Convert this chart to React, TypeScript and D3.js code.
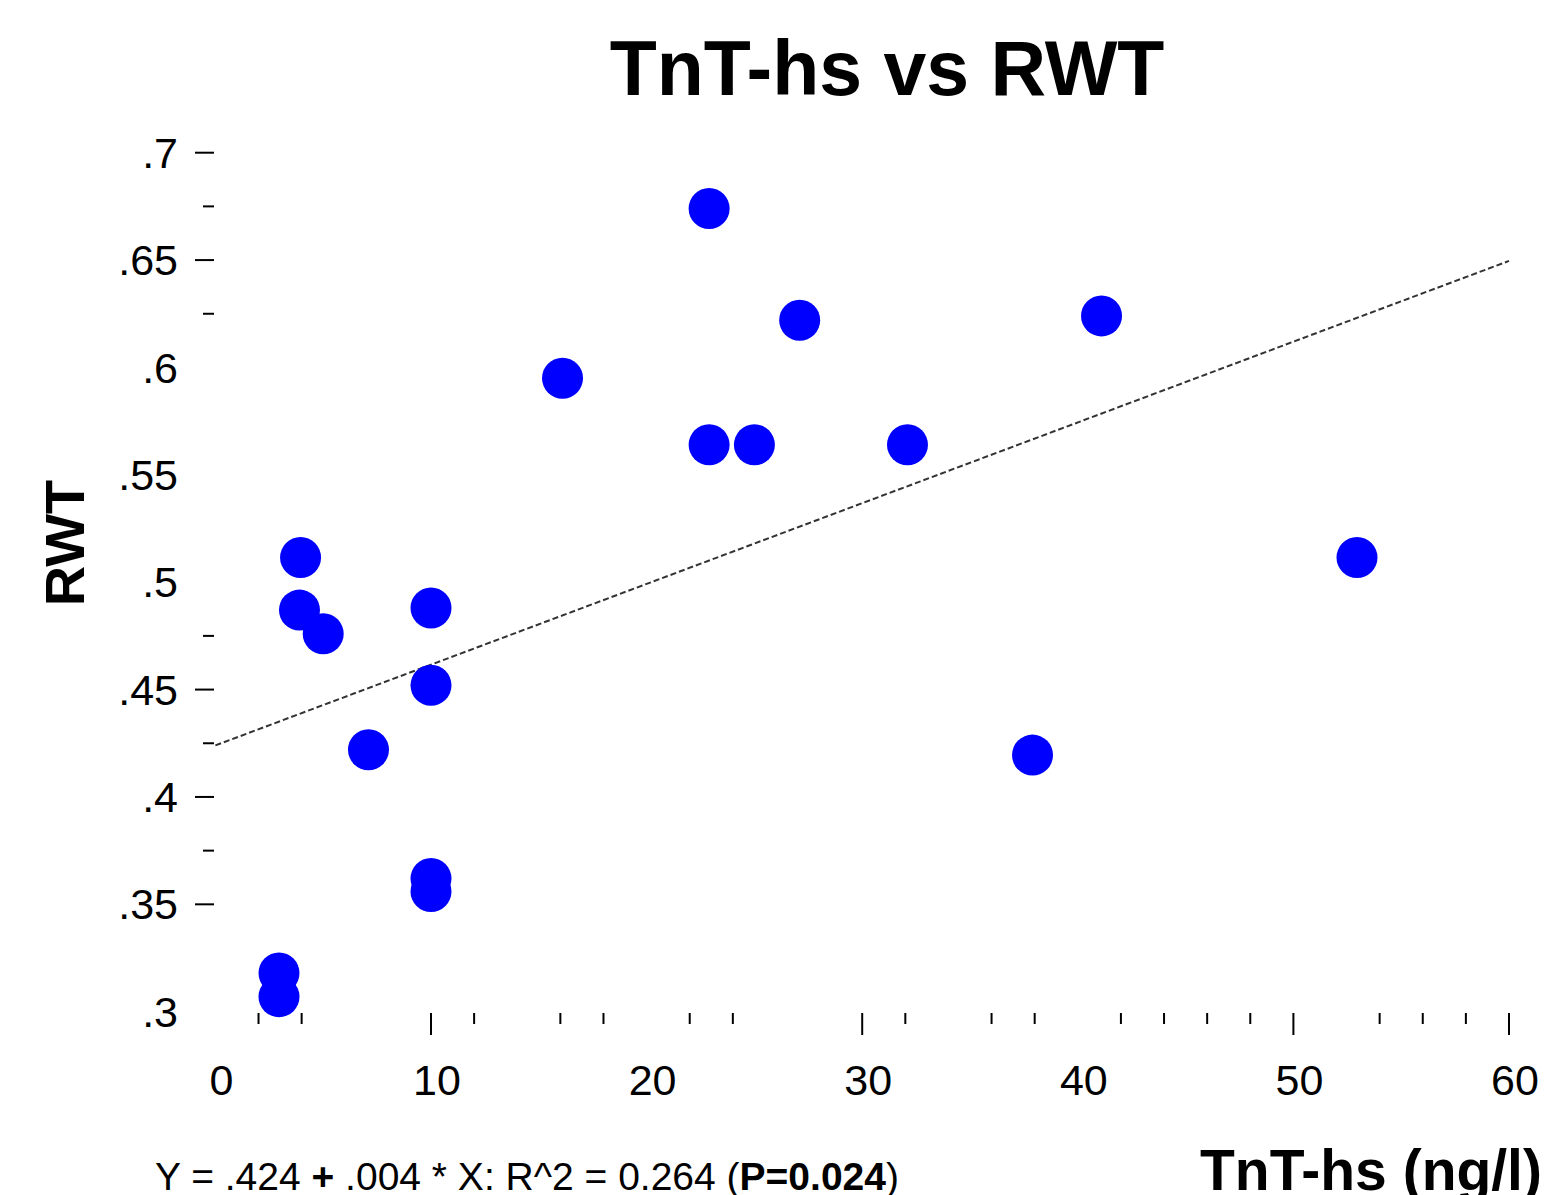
import React, { useRef, useEffect } from 'react';
import * as d3 from 'd3';

// TnT-hs (ng/l) vs RWT
const tnt = [22.9, 27.1, 41.1, 16.1, 22.9, 25.0, 32.1, 3.95, 52.95, 3.9, 5.0, 10.0, 10.0, 7.1, 37.9, 10.0, 10.0, 2.95, 2.95];
const rwt = [0.674, 0.622, 0.624, 0.595, 0.564, 0.564, 0.564, 0.5115, 0.5115, 0.487, 0.476, 0.488, 0.452, 0.422, 0.4195, 0.362, 0.356, 0.318, 0.307];

const xLabels = [0, 10, 20, 30, 40, 50, 60];
const xMajorTicks = [10, 30, 50, 60];
const xMinorTicks = [2, 4, 12, 16, 18, 22, 24, 32, 36, 38, 42, 44, 46, 48, 54, 56, 58];
const yLabels = [0.3, 0.35, 0.4, 0.45, 0.5, 0.55, 0.6, 0.65, 0.7];
const yMajorTicks = [0.35, 0.4, 0.45, 0.65, 0.7];
const yMinorTicks = [0.375, 0.425, 0.475, 0.625, 0.675];

// regression: Y = .424 + .00376 * X
const fitIntercept = 0.424;
const fitSlope = 0.00376;

const FONT = '"Liberation Sans", Arial, sans-serif';

const App = () => {
  const svgRef = useRef(null);

  useEffect(() => {
    document.body.style.margin = '0';
    const svg = d3.select(svgRef.current);
    svg.selectAll('*').remove();

    const x = d3.scaleLinear().domain([0, 60]).range([215.4, 1509]);
    const y = d3.scaleLinear().domain([0.3, 0.7]).range([1011.7, 152.7]);
    const fmt = (v) => d3.format('.2~f')(v).replace(/^0/, '');

    svg.append('text')
      .attr('x', 887).attr('y', 95)
      .attr('text-anchor', 'middle')
      .attr('font-family', FONT).attr('font-weight', 'bold')
      .attr('font-size', 77)
      .text('TnT-hs vs RWT');

    // y axis
    const yAxis = svg.append('g');
    yAxis.selectAll('.ylab').data(yLabels).enter().append('text')
      .attr('x', 178).attr('y', d => y(d)).attr('dy', '0.35em')
      .attr('text-anchor', 'end')
      .attr('font-family', FONT).attr('font-size', 43)
      .text(d => fmt(d));
    yAxis.selectAll('.ymaj').data(yMajorTicks).enter().append('line')
      .attr('x1', 195).attr('x2', 214)
      .attr('y1', d => y(d)).attr('y2', d => y(d))
      .attr('stroke', '#000').attr('stroke-width', 2);
    yAxis.selectAll('.ymin').data(yMinorTicks).enter().append('line')
      .attr('x1', 203).attr('x2', 214)
      .attr('y1', d => y(d)).attr('y2', d => y(d))
      .attr('stroke', '#000').attr('stroke-width', 2);

    svg.append('text')
      .attr('transform', 'translate(84,543) rotate(-90)')
      .attr('text-anchor', 'middle')
      .attr('font-family', FONT).attr('font-weight', 'bold')
      .attr('font-size', 56)
      .text('RWT');

    // x axis
    const xAxis = svg.append('g');
    xAxis.selectAll('.xlab').data(xLabels).enter().append('text')
      .attr('x', d => x(d) + 6).attr('y', 1080).attr('dy', '0.35em')
      .attr('text-anchor', 'middle')
      .attr('font-family', FONT).attr('font-size', 43)
      .text(d => d);
    xAxis.selectAll('.xmaj').data(xMajorTicks).enter().append('line')
      .attr('x1', d => x(d)).attr('x2', d => x(d))
      .attr('y1', 1013).attr('y2', 1035)
      .attr('stroke', '#000').attr('stroke-width', 2);
    xAxis.selectAll('.xmin').data(xMinorTicks).enter().append('line')
      .attr('x1', d => x(d)).attr('x2', d => x(d))
      .attr('y1', 1013).attr('y2', 1024)
      .attr('stroke', '#000').attr('stroke-width', 2);

    svg.append('text')
      .attr('x', 1200).attr('y', 1190)
      .attr('font-family', FONT).attr('font-weight', 'bold')
      .attr('font-size', 57)
      .text('TnT-hs (ng/l)');

    // regression line
    const line = d3.line().x(d => x(d)).y(d => y(fitIntercept + fitSlope * d));
    svg.append('path')
      .attr('d', line([0, 60]))
      .attr('fill', 'none')
      .attr('stroke', '#333')
      .attr('stroke-width', 2)
      .attr('stroke-dasharray', '6,3');

    // points
    svg.append('g').selectAll('circle')
      .data(tnt.map((t, i) => [t, rwt[i]]))
      .enter().append('circle')
      .attr('cx', d => x(d[0])).attr('cy', d => y(d[1]))
      .attr('r', 20.5)
      .attr('fill', '#0000ff');

    const eq = svg.append('text')
      .attr('x', 155).attr('y', 1190)
      .attr('font-family', FONT).attr('font-size', 39);
    eq.append('tspan').text('Y = .424 ');
    eq.append('tspan').attr('font-weight', 'bold').text('+');
    eq.append('tspan').text(' .004 * X: R^2 = 0.264 (');
    eq.append('tspan').attr('font-weight', 'bold').text('P=0.024');
    eq.append('tspan').text(')');
  }, []);

  return <svg ref={svgRef} width={1546} height={1195} style={{ display: 'block', background: '#fff' }}></svg>;
};

export default App;
